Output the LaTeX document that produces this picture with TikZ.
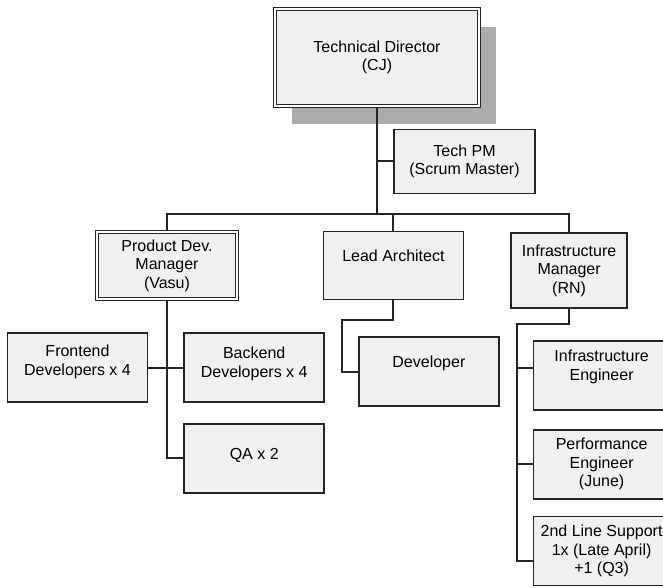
\documentclass[tikz,border=0pt]{standalone}
\usepackage{fontspec}
\setmainfont{Liberation Sans}
\usetikzlibrary{positioning, shadows}
\definecolor{boxfill}{RGB}{240, 240, 238}
\definecolor{shadowgray}{RGB}{172, 172, 172}

\begin{document}
\begin{tikzpicture}[
  x=1pt, y=-1pt,
  box/.style={draw=black!85, line width=1.7pt, fill=boxfill,
    minimum width=140pt, minimum height=69pt, align=center, inner sep=2pt,
    font=\fontsize{16}{18.5}\selectfont},
  head/.style={box, double, double distance=1.6pt, line width=1.1pt},
  edgebox/.style={box, minimum width=136pt},
  lift/.style={text depth=#1},
  link/.style={line width=2pt, black!85}
]
\useasboundingbox (0,0) rectangle (663,587);

% top of the chart
\node[head, minimum width=204pt, minimum height=97pt,
  general shadow={fill=shadowgray, shadow xshift=17pt, shadow yshift=-18pt}]
  (director) at (377,57.5) {Technical Director\\(CJ)};
\node[box, minimum width=141pt, minimum height=64pt, below=22pt of director,
  xshift=87.5pt] (techpm) {Tech PM\\(Scrum Master)};

% managers
\node[head, minimum height=67pt] (product) at (167,265.5)
  {Product Dev.\\Manager\\(Vasu)};
\node[box, minimum height=68pt, lift=19pt, right=85pt of product]
  (architect) {Lead Architect};
\node[box, minimum width=116pt, minimum height=75pt, right=46pt of architect,
  yshift=-5pt] (infra) {Infrastructure\\Manager\\(RN)};

% teams
\node[box, lift=15pt] (frontend) at (77.5,367.5) {Frontend\\Developers x 4};
\node[box, lift=11pt, right=35pt of frontend] (backend)
  {Backend\\Developers x 4};
\node[box, lift=9pt, below=20pt of backend] (qa) {QA x 2};
\node[box, lift=19pt, right=33pt of backend, yshift=-4pt] (developer)
  {Developer};
\node[edgebox, lift=21pt, right=33pt of developer, yshift=-4pt] (infraeng)
  {Infrastructure\\Engineer};
\node[edgebox, below=18pt of infraeng] (perfeng)
  {Performance\\Engineer\\(June)};
\node[edgebox, below=16pt of perfeng] (support)
  {2nd Line Support\\1x (Late April)\\+1 (Q3)};

% reporting lines
\coordinate (bus) at (0,214);
\draw[link] (director.south) -- (director.south |- bus);
\draw[link] (techpm.west) -- (techpm.west -| director.south);
\draw[link] (product.north) -- (product.north |- bus) -- (infra.north |- bus)
  -- (infra.north);
\draw[link] (architect.north) -- (architect.north |- bus);

\draw[link] (product.south) |- (qa.west);
\draw[link] (frontend.east) -- (backend.west);
\draw[link] (architect.south) -- ++(0,20) -| ([xshift=-16pt]developer.west)
  -- (developer.west);

\draw[link] (infra.south) -- ++(0,15)
  -| ([xshift=-16pt, yshift=-10pt]support.west) -- ([yshift=-10pt]support.west);
\draw[link] ([yshift=8pt]infraeng.west) -- ++(-16,0);
\draw[link] (perfeng.west) -- ++(-16,0);
\end{tikzpicture}
\end{document}
